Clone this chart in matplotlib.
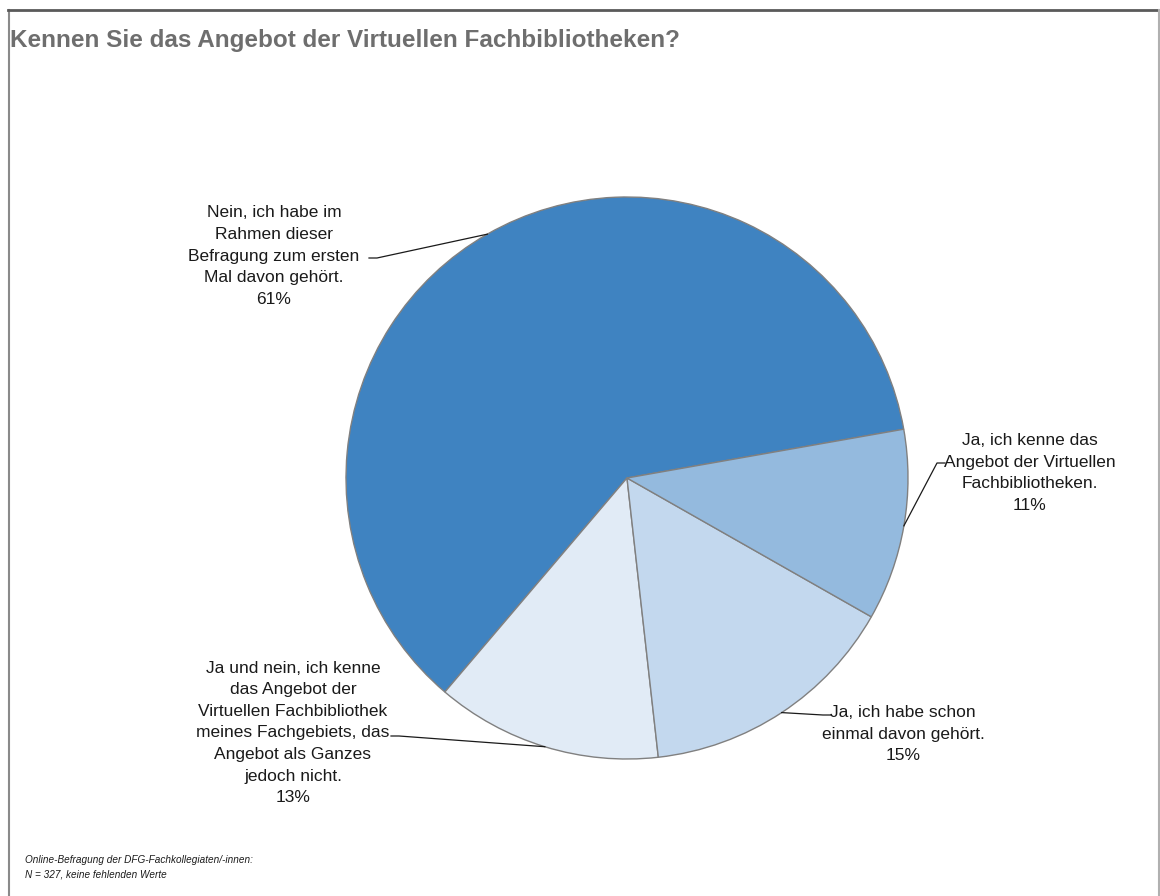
import numpy as np
import matplotlib.pyplot as plt

# survey answers, counter-clockwise starting at the right
labels = [
    "Nein, ich habe im\nRahmen dieser\nBefragung zum ersten\nMal davon gehört.",
    "Ja und nein, ich kenne\ndas Angebot der\nVirtuellen Fachbibliothek\nmeines Fachgebiets, das\nAngebot als Ganzes\njedoch nicht.",
    "Ja, ich habe schon\neinmal davon gehört.",
    "Ja, ich kenne das\nAngebot der Virtuellen\nFachbibliotheken.",
]
shares = [61, 13, 15, 11]
colors = ["#3F83C1", "#E1EBF6", "#C3D8EE", "#94BADE"]

title = "Kennen Sie das Angebot der Virtuellen Fachbibliotheken?"
source = "Online-Befragung der DFG-Fachkollegiaten/-innen:\nN = 327, keine fehlenden Werte"

W, H = 1160, 896

plt.rcParams['font.family'] = ['Liberation Sans', 'DejaVu Sans']

fig = plt.figure(figsize=(W / 100, H / 100), dpi=100)
ax = fig.add_axes([0, 0, 1, 1])

# frame around the chart
ax.plot([8.5, 8.5], [0, H - 10], color="#8a8a8a", lw=1.5)
ax.plot([8, W - 1], [H - 10, H - 10], color="#5a5a5a", lw=2)
ax.plot([W - 1.5, W - 1.5], [0, H - 10], color="#b0b0b0", lw=1.5)

cx, cy, r = 627, H - 478, 281
wedges, _ = ax.pie(shares, colors=colors, startangle=10, counterclock=True,
                   center=(cx, cy), radius=r, frame=True,
                   wedgeprops=dict(edgecolor="#808080", linewidth=1))
ax.set_xlim(0, W)
ax.set_ylim(0, H)
ax.set_aspect('equal')
ax.axis('off')

# label text centre and leader end (in pixel coords from the top)
label_pos = [(274, 256), (293, 733), (903, 734), (1030, 473)]
leader_end = [(377, 258), (399, 736), (823, 715), (937, 463)]

for w, lab, val, (tx, ty), (lx, ly) in zip(wedges, labels, shares,
                                           label_pos, leader_end):
    mid = np.deg2rad((w.theta1 + w.theta2) / 2)
    px = cx + r * np.cos(mid)
    py = cy + r * np.sin(mid)
    ax.text(tx, H - ty, f"{lab}\n{val}%", ha='center', va='center',
            fontsize=12.5, color="#1a1a1a", linespacing=1.55)
    hx = lx + (8 if lx < tx else -8)
    ax.plot([hx, lx, px], [H - ly, H - ly, py], color="#1a1a1a", lw=0.9)

ax.text(10, H - 40, title, fontsize=17.5, fontweight='bold', color="#6e6e6e",
        ha='left', va='center')

ax.text(25, H - 867, source, fontsize=7.2, style='italic', color="#1a1a1a",
        ha='left', va='center', linespacing=1.5)

fig.savefig("out.png", dpi=100)
